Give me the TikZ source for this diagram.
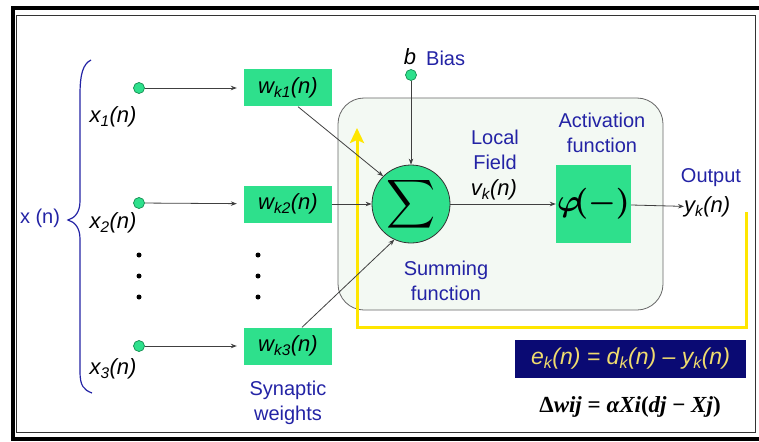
\documentclass[tikz,border=0pt]{standalone}
\usepackage{fontspec}
\setmainfont{Liberation Sans}
\newfontfamily\tnr{Liberation Serif}
\usetikzlibrary{arrows.meta}
\definecolor{mint}{RGB}{46,224,140}
\definecolor{mintdark}{RGB}{20,140,80}
\definecolor{panelfill}{RGB}{243,249,243}
\definecolor{lblue}{RGB}{35,35,165}
\definecolor{fbyellow}{RGB}{255,230,0}
\definecolor{navy}{RGB}{10,10,115}
\definecolor{eqyellow}{RGB}{240,220,110}
\tikzset{
  inpt/.style={circle, fill=mint, draw=mintdark, line width=0.7pt, minimum size=11pt, inner sep=0pt},
  wbox/.style={rectangle, fill=mint, minimum width=88pt, minimum height=37pt, inner sep=0pt, font=\fontsize{22}{24}\selectfont\itshape},
  conn/.style={draw=black!75, line width=0.8pt, -{Stealth[length=6pt,width=4.5pt]}},
  ital/.style={inner sep=0pt, font=\fontsize{22}{24}\selectfont\itshape},
  bluet/.style={inner sep=0pt, text=lblue, align=center, font=\fontsize{20}{25}\selectfont},
  vdot/.style={circle, fill=black, minimum size=5pt, inner sep=0pt},
  fb/.style={draw=fbyellow, line width=3pt, -{Stealth[length=15pt,width=14pt,inset=3pt]}}
}
\newcommand{\lbl}[2]{#1\textsubscript{#2}(n)}
\begin{document}
\begin{tikzpicture}[x=1pt,y=-1pt]
\useasboundingbox (0,0) rectangle (759,441);
% frame
\draw[line width=4pt] (765,8.5) -- (12.5,8.5) -- (12.5,438.5) -- (765,438.5);
\draw[line width=0.8pt, black!80] (16,15.5) rectangle (755,432);
% panel
\node[draw=black!60, line width=0.8pt, fill=panelfill, rounded corners=26pt,
      minimum width=325pt, minimum height=212pt, inner sep=0pt] (panel) at (500.5,204) {};
% feedback
\coordinate (fbs) at (746,212);
\coordinate (fbe) at (357,128);
\draw[fb] (fbs) -- ++(0,115) -| (fbe);
% inputs
\node[inpt] (in1) at (139,88) {};
\node[inpt] (in2) at (139,203) {};
\node[inpt] (in3) at (139,346) {};
\node[ital] (x1) at (113,117) {\lbl{x}{1}};
\node[ital] (x2) at (113,223) {\lbl{x}{2}};
\node[ital] (x3) at (113,369) {\lbl{x}{3}};
% weights
\node[wbox] (w1) at (288,88) {\lbl{w}{k1}};
\node[wbox] (w2) at (288,204) {\lbl{w}{k2}};
\node[wbox] (w3) at (288,346) {\lbl{w}{k3}};
% dots
\foreach \i/\y in {1/255,2/276,3/297}{
  \node[vdot] (dx\i) at (139,\y) {};
  \node[vdot] (dw\i) at (258,\y) {};
}
% brace and x(n)
\draw[lblue, line width=1.2pt] (91,60) .. controls (83,64) and (80,74) .. (80,95) -- (80,201)
  .. controls (80,212) and (75,218) .. (68,220) .. controls (75,222) and (80,228) .. (80,239)
  -- (80,372) .. controls (80,386) and (84,390) .. (92,393);
\node[bluet] (xn) at (40,218) {x (n)};
% summing junction
\node[circle, fill=mint, draw=black!80, line width=0.8pt, minimum size=78pt, inner sep=0pt] (sum) at (411,204)
  {\raisebox{-2pt}{\scalebox{3.4}{\boldmath$\displaystyle\sum$}}};
\node[inpt] (bias) at (411,75) {};
\node[ital] (b) at (410,57) {b};
\node[bluet, anchor=west] (biast) at (426,58) {Bias};
% activation
\node[rectangle, fill=mint, minimum width=75pt, minimum height=78pt, inner sep=0pt] (act) at (593.5,204)
  {\scalebox{3.1}{\boldmath$\varphi\!(-)$}};
\node[ital, anchor=west] (yk) at (684,207) {\lbl{y}{k}};
% text labels
\node[bluet] (lf) at (495,150) {Local\\Field};
\node[ital] (vk) at (494,190) {\lbl{v}{k}};
\node[bluet] (af) at (602,133) {Activation\\function};
\node[bluet] (out) at (711,178) {Output};
\node[bluet] (sf) at (446,281) {Summing\\function};
\node[bluet] (sw) at (288,403) {Synaptic\\weights};
% connectors
\draw[conn, shorten >=7pt] (in1) -- (w1);
\draw[conn, shorten >=7pt] (in2) -- (w2);
\draw[conn, shorten >=7pt] (in3) -- (w3);
\draw[conn] ([xshift=10pt]w1.south) -- (sum.135);
\draw[conn] (w2) -- (sum);
\draw[conn] ([xshift=14pt]w3.north) -- (sum.245);
\draw[conn] (bias) -- (sum);
\draw[conn] (sum) -- (act);
\draw[conn] (act) -- (yk);
% equations
\node[fill=navy, minimum width=231pt, minimum height=38pt, inner sep=0pt, text=eqyellow,
      font=\fontsize{23}{25}\selectfont\itshape] (ek) at (630.5,359)
  {\lbl{e}{k} = \lbl{d}{k} -- \lbl{y}{k}};
\node[inner sep=0pt, font=\tnr\fontsize{23}{25}\selectfont\bfseries] (dw) at (630,407)
  {Δ\textit{wij} = \textit{αXi}(\textit{dj} − \textit{Xj})};
\end{tikzpicture}
\end{document}
